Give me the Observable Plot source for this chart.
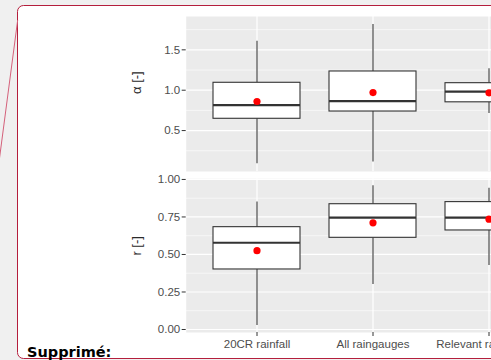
<!DOCTYPE html>
<html><head><meta charset="utf-8">
<script src="https://cdn.jsdelivr.net/npm/d3@7"></script>
<script src="https://cdn.jsdelivr.net/npm/@observablehq/plot@0.6"></script>
<style>
html,body{margin:0;padding:0;background:#f0f0f0;overflow:hidden;}
#page{position:relative;width:491px;height:360px;overflow:hidden;background:#f0f0f0;}
#under{position:absolute;left:0;top:0;}
#chart{position:absolute;left:0;top:0;width:491px;height:360px;overflow:hidden;}
#chart svg{position:absolute;left:0;top:0;background:transparent;max-width:none !important;}
#over{position:absolute;left:0;top:0;}
</style>
</head><body>
<div id="page">
<svg id="under" width="491" height="360">
  <rect x="17.5" y="5.5" width="700" height="353" rx="6" ry="6" fill="#fff" stroke="#b41e3c" stroke-width="1"/>
</svg>
<div id="chart"></div>
<svg id="over" width="491" height="360">
  <line x1="17.7" y1="20" x2="-1" y2="162" stroke="#d4607a" stroke-width="1"/>
  <text x="27" y="356.5" font-family="DejaVu Sans" font-weight="bold" font-size="14.5" fill="#000">Supprimé:</text>
</svg>
</div>
<script>
const categories = ["20CR rainfall", "All raingauges", "Relevant raingauges"];

// alpha [-]
const alphaLow    = [0.088, 0.112, 0.711];
const alphaQ1     = [0.646, 0.736, 0.850];
const alphaMedian = [0.814, 0.864, 0.983];
const alphaQ3     = [1.092, 1.232, 1.087];
const alphaHigh   = [1.607, 1.814, 1.265];
const alphaMean   = [0.860, 0.971, 0.968];
const alphaTicks  = [0.5, 1.0, 1.5];
const alphaMinor  = [0.25, 0.75, 1.25, 1.75];

// r [-]
const rLow    = [0.027, 0.300, 0.427];
const rQ1     = [0.400, 0.611, 0.660];
const rMedian = [0.578, 0.745, 0.745];
const rQ3     = [0.682, 0.835, 0.849];
const rHigh   = [0.849, 0.958, 0.942];
const rMean   = [0.525, 0.711, 0.735];
const rTicks  = [0, 0.25, 0.5, 0.75, 1.0];
const rMinor  = [0.125, 0.375, 0.625, 0.875];

function rows(low, q1, med, q3, high, mean) {
  return categories.map((c, i) => ({cat: c, low: low[i], q1: q1[i], med: med[i], q3: q3[i], high: high[i], mean: mean[i]}));
}

function panel({data, domain, major, minor, fmt, label, marginTop, height, marginBottom, showX}) {
  const marks = [
    Plot.frame({fill: "#ebebeb", stroke: "none"}),
    Plot.ruleY(minor, {stroke: "#fff", strokeWidth: 0.6}),
    Plot.ruleY(major, {stroke: "#fff", strokeWidth: 1.2}),
    Plot.ruleX(categories, {x: d => d, stroke: "#fff", strokeWidth: 1.2}),
    Plot.ruleX(data, {x: "cat", y1: "low", y2: "q1", stroke: "#3a3a3a", strokeWidth: 1.1}),
    Plot.ruleX(data, {x: "cat", y1: "q3", y2: "high", stroke: "#3a3a3a", strokeWidth: 1.1}),
    Plot.barY(data, {x: "cat", y1: "q1", y2: "q3", fill: "#fff", stroke: "#333", strokeWidth: 1.1, inset: 0}),
    Plot.tickY(data, {x: "cat", y: "med", stroke: "#333", strokeWidth: 2.2}),
    Plot.dot(data, {x: "cat", y: "mean", fill: "#ff0000", stroke: "none", r: 3.6}),
    Plot.axisY({ticks: major, tickFormat: fmt, tickSize: 4, tickPadding: 2, stroke: "#333", fill: "#4d4d4d", label: null}),
    Plot.text([label], {frameAnchor: "left", dx: -49, rotate: -90, fill: "#2a2a2a", fontSize: 13})
  ];
  if (showX) marks.push(Plot.axisX({tickSize: 4, tickPadding: 3, stroke: "#333", fill: "#4d4d4d", label: null}));
  return Plot.plot({
    width: 560, height,
    marginLeft: 185.7, marginRight: 1, marginTop, marginBottom,
    style: {fontFamily: "'Liberation Sans', Arial, sans-serif", fontSize: "11.5px", background: "transparent", overflow: "visible", maxWidth: "none"},
    x: {type: "band", domain: categories, paddingInner: 0.25, paddingOuter: 0.225, axis: showX ? undefined : null},
    y: {domain, axis: null},
    marks
  });
}

const chart = document.getElementById("chart");
chart.append(panel({
  data: rows(alphaLow, alphaQ1, alphaMedian, alphaQ3, alphaHigh, alphaMean),
  domain: [-0.007, 1.913], major: alphaTicks, minor: alphaMinor, fmt: d3.format(".1f"),
  label: "α [-]", marginTop: 16, height: 172, marginBottom: 1, showX: false
}));
chart.append(panel({
  data: rows(rLow, rQ1, rMedian, rQ3, rHigh, rMean),
  domain: [-0.02, 1.005], major: rTicks, minor: rMinor, fmt: d3.format(".2f"),
  label: "r [-]", marginTop: 178.2, height: 360, marginBottom: 28, showX: true
}));
</script>
</body></html>
